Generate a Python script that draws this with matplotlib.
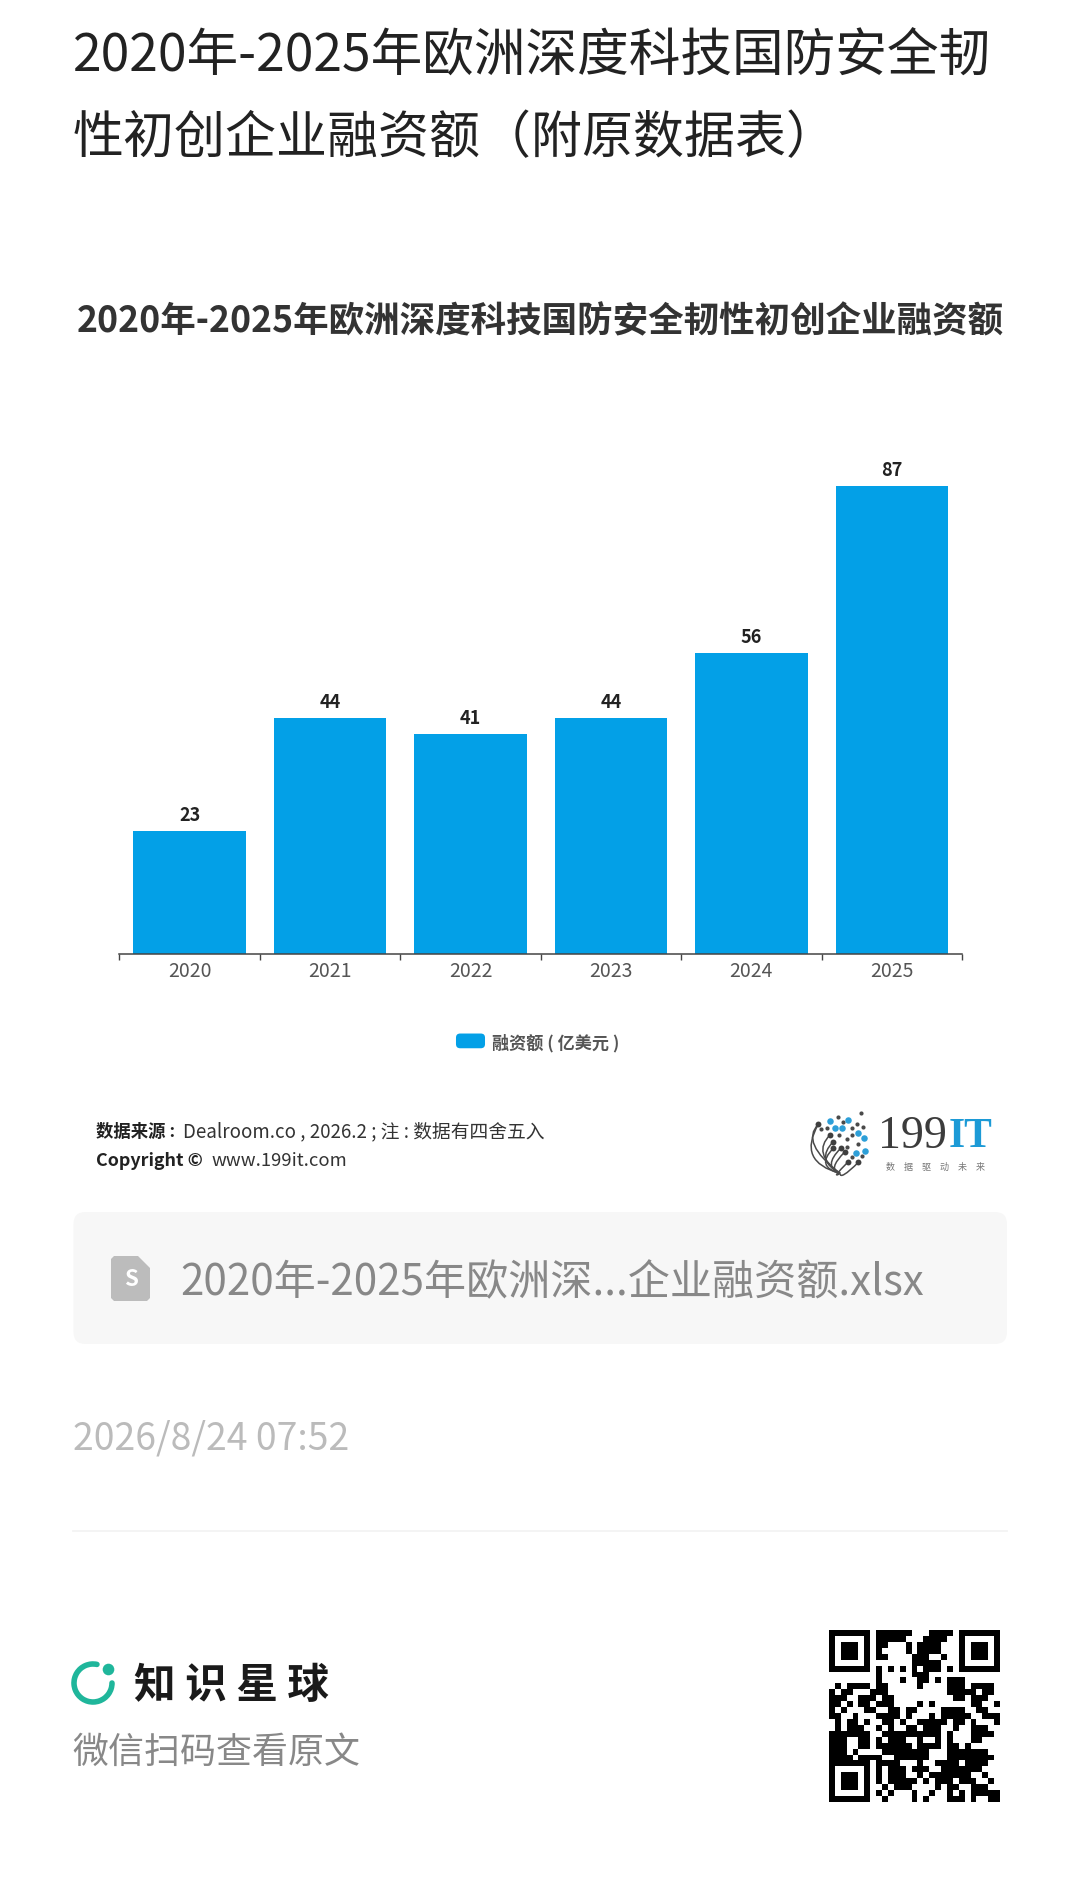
import numpy as np
import matplotlib
matplotlib.use('Agg')
import matplotlib.pyplot as plt
from matplotlib.legend_handler import HandlerPatch
from matplotlib.patches import Arc, FancyBboxPatch, PathPatch, Polygon
from matplotlib.path import Path

plt.rcParams['font.family'] = ['Noto Sans CJK SC', 'DejaVu Sans']

#---------------------------- DATA ------------------------------------------------------
years = ['2020', '2021', '2022', '2023', '2024', '2025']
funding = [23, 44, 41, 44, 56, 87]
series_name = '融资额 ( 亿美元 )'

page_title = ['2020年-2025年欧洲深度科技国防安全韧', '性初创企业融资额（附原数据表）']
chart_title = '2020年-2025年欧洲深度科技国防安全韧性初创企业融资额'
file_name = '2020年-2025年欧洲深...企业融资额.xlsx'
stamp = '2026/8/24 07:52'

# qr code, black column runs per row (finder squares are added later)
qr_runs = [
    [(8, 13), (17, 20)], [(8, 12), (16, 19)], [(8, 9), (13, 13), (15, 18)],
    [(8, 8), (13, 13), (15, 18)], [(8, 9), (14, 16), (19, 19)], [(14, 18)],
    [(8, 8), (10, 10), (12, 12), (14, 14), (16, 18), (20, 20)], [(8, 8), (14, 16)],
    [(8, 8), (12, 12), (15, 16), (18, 18), (20, 22)],
    [(1, 1), (3, 6), (8, 9), (15, 15), (20, 22), (24, 27)],
    [(0, 0), (2, 3), (7, 9), (20, 24), (26, 27)],
    [(0, 2), (5, 7), (9, 10), (21, 22), (24, 26)],
    [(0, 1), (3, 3), (5, 6), (8, 10), (15, 15), (17, 17), (24, 25), (28, 28)],
    [(0, 0), (2, 2), (6, 7), (10, 11), (13, 14), (19, 22), (25, 26)],
    [(0, 1), (4, 4), (8, 11), (13, 13), (17, 17), (19, 23), (26, 28)],
    [(1, 1), (3, 4), (6, 6), (9, 10), (12, 12), (15, 19), (21, 22), (24, 24), (28, 28)],
    [(1, 1), (3, 5), (8, 8), (10, 10), (13, 14), (16, 18), (21, 21), (24, 26)],
    [(0, 6), (9, 18), (20, 20), (24, 27)],
    [(0, 2), (5, 6), (8, 8), (10, 12), (15, 15), (18, 18), (20, 20), (24, 25)],
    [(0, 2), (5, 6), (8, 13), (15, 18), (20, 21), (23, 23)],
    [(0, 2), (4, 4), (9, 16), (20, 26)],
    [(0, 3), (5, 8), (11, 16), (20, 27)],
    [(8, 11), (15, 15), (18, 21), (23, 26)],
    [(8, 8), (10, 12), (14, 16), (19, 25)],
    [(8, 8), (10, 12), (15, 15), (17, 23), (26, 26)],
    [(8, 8), (10, 14), (16, 16), (18, 20), (22, 24), (27, 27)],
    [(9, 9), (11, 13), (18, 18), (20, 21), (24, 26)],
    [(8, 8), (10, 10), (14, 14), (17, 17), (20, 20), (22, 22), (24, 28)],
    [(9, 9), (14, 14), (16, 16), (20, 22), (24, 24), (27, 28)],
]

# logo dots, in zoomed logo coordinates
logo_blue = [(150, 92), (205, 90), (185, 113), (165, 115), (235, 130), (253, 145), (228, 190), (255, 183)]
logo_dark = [(175, 80), (243, 70), (190, 97), (230, 103), (250, 110), (215, 113), (140, 115), (122, 118),
             (178, 135), (215, 135), (200, 148), (235, 163), (200, 170), (245, 197), (215, 200)]
logo_stems = [(115, 103), (150, 135), (160, 155), (160, 175), (182, 175), (195, 185), (205, 215), (235, 217)]

#---------------------------- PAGE ------------------------------------------------------
W, H = 1080, 1900
fig = plt.figure(figsize=(W / 100, H / 100), dpi=100, facecolor='white')

# page overlay in pixel coordinates, y going down
page = fig.add_axes([0, 0, 1, 1])
page.set_xlim(0, W)
page.set_ylim(H, 0)
page.axis('off')

page.text(73, 57, page_title[0], fontsize=37.2, color='#222222', va='center')
page.text(73, 138.5, page_title[1], fontsize=36.7, color='#222222', va='center')
page.text(540, 322, chart_title, fontsize=25.6, fontweight='bold', color='#333333', ha='center', va='center')

# source lines
page.text(95.5, 1132, '数据来源 :', fontsize=12.5, fontweight='bold', color='#222222', va='center')
page.text(183, 1132, 'Dealroom.co , 2026.2 ; 注 : 数据有四舍五入', fontsize=13.5, color='#333333', va='center')
page.text(95.5, 1161, 'Copyright ©', fontsize=12.9, fontweight='bold', color='#222222', va='center')
page.text(212, 1161, 'www.199it.com', fontsize=13.3, color='#333333', va='center')

# 199IT logo
def lx(v):
    return 780 + v / 3

def ly(v):
    return 1090 + v / 3

for sx, sy in logo_stems:
    verts = [(lx(180), ly(250)), (lx(sx - 55), ly(sy + 55)), (lx(sx), ly(sy))]
    page.add_patch(PathPatch(Path(verts, [Path.MOVETO, Path.CURVE3, Path.CURVE3]), fill=False,
                             edgecolor='#4a4a4a', lw=1.1))
    page.scatter(lx(sx), ly(sy), s=18, color='#3f3f3f', linewidths=0, zorder=3)
verts = [(lx(115), ly(103)), (lx(50), ly(215)), (lx(180), ly(250))]
page.add_patch(PathPatch(Path(verts, [Path.MOVETO, Path.CURVE3, Path.CURVE3]), fill=False,
                         edgecolor='#4a4a4a', lw=1.1))
page.scatter([lx(p[0]) for p in logo_dark], [ly(p[1]) for p in logo_dark], s=9, color='#4a4a4a', linewidths=0)
page.scatter([lx(p[0]) for p in logo_blue], [ly(p[1]) for p in logo_blue], s=22, color='#2d9fd8', linewidths=0)
page.text(878, 1137, '199', family='Liberation Serif', fontsize=33, color='#3c3c3c', va='center')
page.text(949, 1137, 'IT', family='Liberation Serif', fontsize=30, fontweight='bold', color='#1c9ad6', va='center')
page.text(936, 1167, '数\u3000据\u3000驱\u3000动\u3000未\u3000来', fontsize=6.5, color='#777777', ha='center', va='center')

# file card
page.add_patch(FancyBboxPatch((85.5, 1224), 909.5, 108, boxstyle='round,pad=12,rounding_size=12',
                              facecolor='#f7f7f7', edgecolor='none'))
page.add_patch(Polygon([(114, 1256), (138, 1256), (150, 1268), (150, 1298), (147, 1301), (114, 1301), (111, 1298),
                        (111, 1259)], closed=True, facecolor='#bcbcbc', edgecolor='none'))
page.text(130.5, 1280, 'S', fontsize=16, fontweight='bold', color='white', ha='center', va='center')
page.text(180, 1283, file_name, fontsize=30.3, color='#888888', va='center')

page.text(73, 1439.5, stamp, fontsize=26.9, color='#bbbbbb', va='center')
page.plot([73, 1007], [1531, 1531], color='#f2f2f2', lw=1.2)

# knowledge planet logo
page.add_patch(Arc((93, 1683), 38, 38, theta1=0, theta2=282, color='#1fb69b', lw=4.0, capstyle='round'))
page.scatter(107.5, 1669, s=70, color='#1fb69b', linewidths=0)
page.text(134, 1686.5, '知 识 星 球', fontsize=30, fontweight='bold', color='#1a1a1a', va='center')
page.text(72, 1753, '微信扫码查看原文', fontsize=25.9, color='#888888', va='center')

# qr code
qr = np.zeros((len(qr_runs), len(qr_runs)))
for r, runs in enumerate(qr_runs):
    for a, b in runs:
        qr[r, a:b + 1] = 1
for r0, c0 in [(0, 0), (0, 22), (22, 0)]:
    qr[r0:r0 + 7, c0:c0 + 7] = 1
    qr[r0 + 1:r0 + 6, c0 + 1:c0 + 6] = 0
    qr[r0 + 2:r0 + 5, c0 + 2:c0 + 5] = 1
page.imshow(qr, cmap='gray_r', vmin=0, vmax=1, extent=(828.5, 999.5, 1802, 1630), aspect='auto', interpolation='nearest')
page.set_xlim(0, W)
page.set_ylim(H, 0)

#---------------------------- CHART ------------------------------------------------------
left, right, top, bottom = 119.4, 962, 440, 954.3
ax = fig.add_axes([left / W, 1 - bottom / H, (right - left) / W, (bottom - top) / H])
ax.patch.set_alpha(0)
x = np.arange(len(years))
bars = ax.bar(x, funding, width=0.8, color='#03a0e7', label=series_name)
ax.bar_label(bars, labels=[str(v) for v in funding], padding=4.3, fontsize=13, fontweight='bold', color='#222222')

ax.set_xlim(-0.5, len(years) - 0.5)
ax.set_ylim(0, (bottom - top) / 5.38)
ax.yaxis.set_visible(False)
for side in ['left', 'right', 'top']:
    ax.spines[side].set_visible(False)
ax.spines['bottom'].set_color('#444444')
ax.spines['bottom'].set_linewidth(1.1)

ax.set_xticks(x, years, fontsize=14, color='#555555')
ax.tick_params(axis='x', which='major', length=0, pad=4.5)
ax.set_xticks(np.arange(len(years) + 1) - 0.5, minor=True)
ax.tick_params(axis='x', which='minor', length=4, width=1, color='#444444')


class RoundHandler(HandlerPatch):
    def create_artists(self, legend, orig_handle, xdescent, ydescent, width, height, fontsize, trans):
        box = FancyBboxPatch((3, 3), width - 6, height - 6, boxstyle='round,pad=3,rounding_size=3',
                             facecolor='#03a0e7', edgecolor='none', transform=trans)
        return [box]


leg = ax.legend(handles=[bars.patches[0]], labels=[series_name], handler_map={bars.patches[0]: RoundHandler()},
                loc='center', bbox_to_anchor=((537.6 - left) / (right - left), 1 - (1043 - top) / (bottom - top)),
                frameon=False, fontsize=12.3, handlelength=1.7, handleheight=0.95, handletextpad=0.4, borderpad=0)
for t in leg.get_texts():
    t.set_fontweight('bold')
    t.set_color('#555555')

fig.savefig('out.png', dpi=100)
